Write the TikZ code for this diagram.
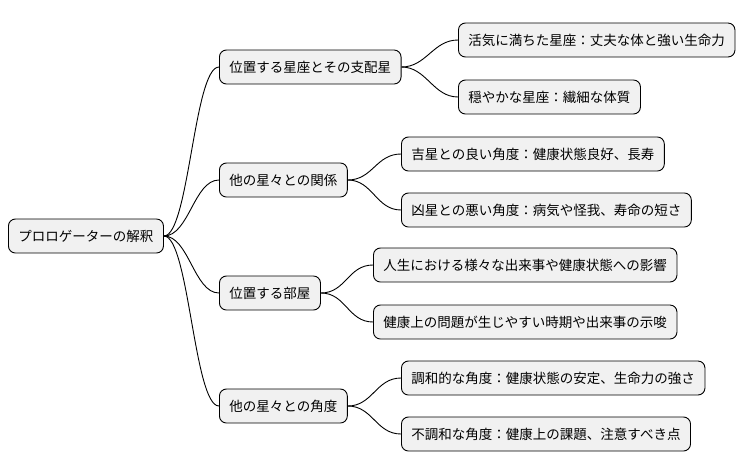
\documentclass[tikz,border=0pt]{standalone}
\usepackage{fontspec}
\setmainfont{Noto Sans CJK JP}
\definecolor{boxfill}{HTML}{F1F1F1}
\begin{document}
\begin{tikzpicture}[x=1pt, y=-1pt,
    box/.style = {draw, fill=boxfill, rounded corners=7pt, line width=0.9pt, anchor=west,
                  minimum height=34pt, inner xsep=10pt, font=\fontsize{13.5pt}{16pt}\selectfont},
    link/.style = {line width=0.9pt}]
    \useasboundingbox (0,0) rectangle (754,471);
    \node[box] (root) at (8,236) {プロロゲーターの解釈};

    \node[box] (s) at (219,67) {位置する星座とその支配星};
    \node[box] (r) at (219,180) {他の星々との関係};
    \node[box] (h) at (219,293) {位置する部屋};
    \node[box] (a) at (219,406) {他の星々との角度};

    \node[box] (s1) at (458,40) {活気に満ちた星座：丈夫な体と強い生命力};
    \node[box] (s2) at (458,97) {穏やかな星座：繊細な体質};
    \node[box] (r1) at (401,154) {吉星との良い角度：健康状態良好、長寿};
    \node[box] (r2) at (401,210) {凶星との悪い角度：病気や怪我、寿命の短さ};
    \node[box] (h1) at (373,265) {人生における様々な出来事や健康状態への影響};
    \node[box] (h2) at (373,322) {健康上の問題が生じやすい時期や出来事の示唆};
    \node[box] (a1) at (401,378) {調和的な角度：健康状態の安定、生命力の強さ};
    \node[box] (a2) at (401,434) {不調和な角度：健康上の課題、注意すべき点};

    \foreach \p/\c in {root/s, root/r, root/h, root/a, s/s1, s/s2, r/r1, r/r2, h/h1, h/h2, a/a1, a/a2}
        \draw[link] (\p.east) .. controls +(25,0) and +(-25,0) .. (\c.west);
\end{tikzpicture}
\end{document}
